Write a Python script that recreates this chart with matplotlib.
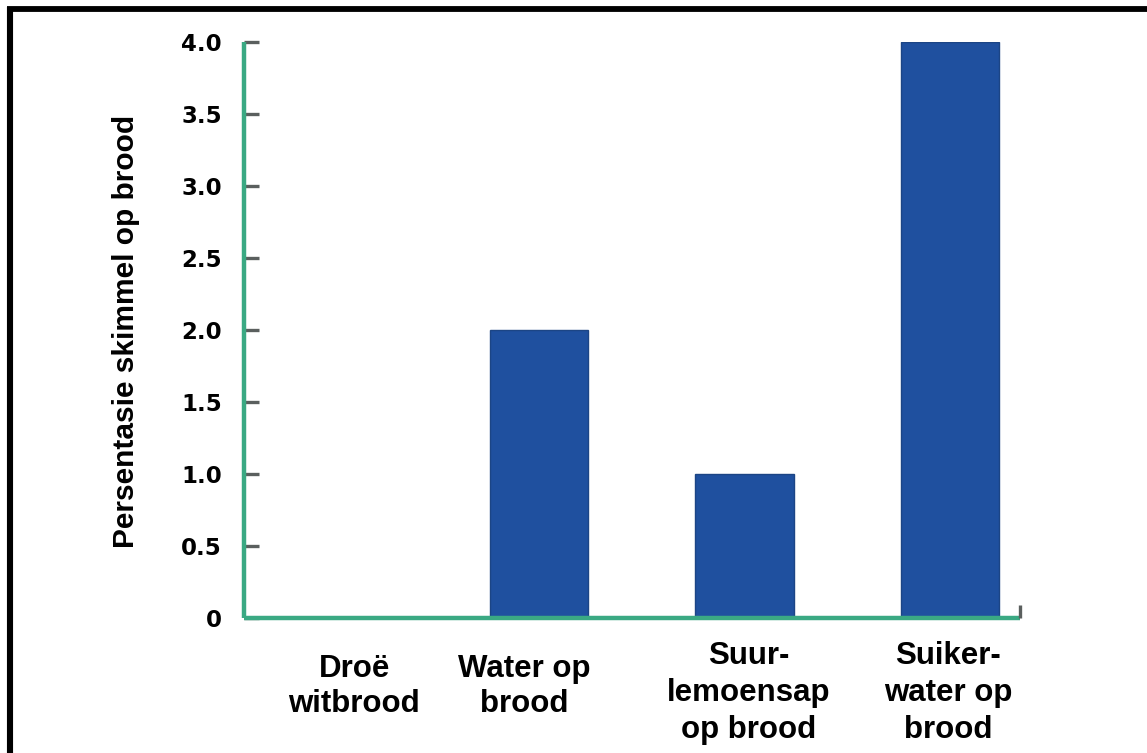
import matplotlib
matplotlib.use("Agg")
import matplotlib.pyplot as plt
import matplotlib.transforms as mtransforms
from matplotlib.lines import Line2D

# Data
categories = ["Droë\nwitbrood", "Water op\nbrood", "Suur-\nlemoensap\nop brood", "Suiker-\nwater op\nbrood"]
values = [0.0, 2.0, 1.0, 4.0]
yticks = [0, 0.5, 1.0, 1.5, 2.0, 2.5, 3.0, 3.5, 4.0]
ytick_labels = ["0", "0.5", "1.0", "1.5", "2.0", "2.5", "3.0", "3.5", "4.0"]
ylabel = "Persentasie skimmel op brood"

# Styling
W, H = 1147, 753
bar_color = "#1f509f"
bar_edge = "#1c4585"
axis_color = "#3aa983"
tick_color = "#5a5f5e"
label_dx = [0.10, -0.07, 0.02, -0.01]   # horizontal nudge of category labels
label_top = [654, 654, 641, 641]         # top of each category label, px from top
label_spacing = [1.2, 1.2, 1.3, 1.3]

fig = plt.figure(figsize=(W / 100, H / 100), dpi=100)
fig.patch.set_facecolor("white")

def fx(px):
    return px / W

def fy(py):
    return 1 - py / H

ax = fig.add_axes([fx(244), fy(618), fx(1020) - fx(244), fy(42.3) - fy(618)])
x = list(range(len(categories)))
ax.bar(x, values, width=0.48, color=bar_color, edgecolor=bar_edge, linewidth=1.0, zorder=2)

ax.set_xlim(-0.4355, 3.34)
ax.set_ylim(0, 4.0)

for side in ["top", "right"]:
    ax.spines[side].set_visible(False)
for side in ["left", "bottom"]:
    ax.spines[side].set_color(axis_color)
    ax.spines[side].set_linewidth(3.2)
    ax.spines[side].set_capstyle("butt")
ax.spines["bottom"].set_zorder(3)

ax.set_yticks(yticks)
ax.set_yticklabels(ytick_labels, fontfamily="DejaVu Sans", fontweight="bold", fontsize=16.5)
ax.tick_params(axis="y", direction="in", length=11, width=2.4, color=tick_color, pad=16)
ax.set_xticks([])

# small upward tick closing the x axis on the right
ax.plot([3.34, 3.34], [0, 0.09], color=tick_color, lw=2.4, solid_capstyle="butt",
        clip_on=False, zorder=4)

fig.text(fx(126), fy(331), ylabel, rotation=90, ha="center", va="center",
         fontfamily="Liberation Sans", fontweight="bold", fontsize=21.5)

blend = mtransforms.blended_transform_factory(ax.transData, fig.transFigure)
for i, lab in enumerate(categories):
    ax.text(i + label_dx[i], fy(label_top[i]), lab, transform=blend, ha="center", va="top",
            fontfamily="Liberation Sans", fontweight="bold", fontsize=22.5,
            linespacing=label_spacing[i], clip_on=False)

# black frame on the top and left edges
fig.add_artist(Line2D([fx(7), fx(1146.5)], [fy(9.2), fy(9.2)], color="black", lw=4.2,
                      solid_capstyle="butt"))
fig.add_artist(Line2D([fx(9.8), fx(9.8)], [fy(6.5), fy(753)], color="black", lw=4.4,
                      solid_capstyle="butt"))

fig.savefig("out.png", dpi=100)
